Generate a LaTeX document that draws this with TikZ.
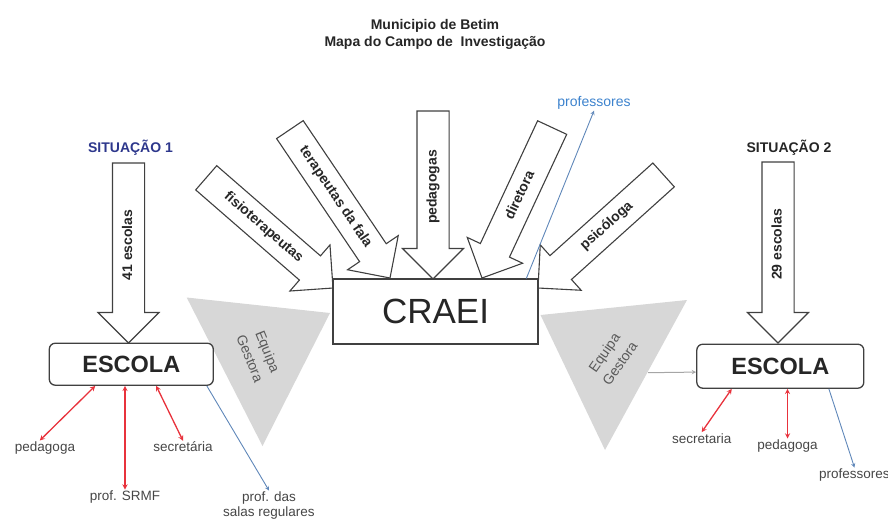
\documentclass[tikz,border=0pt]{standalone}
\usepackage{fontspec}
\setmainfont{Liberation Sans}
\usepackage{xcolor}
\usetikzlibrary{shapes.arrows}
\tikzset{>=stealth}
\definecolor{sitblue}{RGB}{45,55,140}
\definecolor{relred}{RGB}{232,50,60}
\definecolor{profblue}{RGB}{95,135,185}
\definecolor{proftxt}{RGB}{60,130,205}
\definecolor{eqgray}{RGB}{215,215,215}
\definecolor{txtgray}{RGB}{70,70,70}
\tikzset{
  blockarr/.style={single arrow, draw=black!75, fill=white, line width=1.1pt,
    text height=9pt, text depth=2pt, inner ysep=10pt, inner xsep=2pt,
    single arrow head extend=14.5pt, single arrow head indent=0pt,
    outer sep=0pt, anchor=tip, text=black!85,
    font=\fontsize{14}{16}\selectfont\bfseries},
  flipped/.style={shape border rotate=180},
  escola/.style={draw=black!75, line width=1.3pt, rounded corners=6pt, fill=white,
    inner sep=0pt, text=black!85, font=\fontsize{23.5}{28}\selectfont\bfseries},
  lbl/.style={inner sep=1pt, text=txtgray, font=\fontsize{13.5}{15}\selectfont},
  eqtxt/.style={align=center, text=black!65, font=\fontsize{14}{19}\selectfont},
  relarr/.style={<->, relred, line width=1.3pt},
  profarr/.style={->, profblue, line width=0.9pt},
}

\begin{document}
\begin{tikzpicture}[x=1pt,y=-1pt]
        \useasboundingbox (0,0) rectangle (888,520);

        % Title
        \node[align=center, text=black!85, font=\fontsize{14}{17}\selectfont\bfseries] (title) at (435,34)
            {Municipio de Betim\\Mapa do Campo de\ \ Investigação};
        \node[text=sitblue, font=\fontsize{14}{17}\selectfont\bfseries] (sit1) at (130.5,148) {SITUAÇÃO 1};
        \node[text=black!85, font=\fontsize{14}{17}\selectfont\bfseries] (sit2) at (789,148) {SITUAÇÃO 2};

        % Equipa Gestora
        \fill[eqgray] (186.7,297.5) -- (330,313) -- (262.5,446) -- cycle;
        \fill[eqgray] (540.5,315) -- (687,300) -- (605,450) -- cycle;
        \node[eqtxt, rotate=-68] (eq1) at (259,355) {Equipa\\Gestora};
        \node[eqtxt, rotate=55] (eq2) at (612,358) {Equipa\\Gestora};

        % Block arrows
        \node[blockarr, flipped, rotate=90, minimum height=180pt] (esc41) at (128.5,343) {41 escolas};
        \node[blockarr, rotate=-41, minimum height=168pt] (fisio) at (333,288) {fisioterapeutas};
        \node[blockarr, rotate=-56, minimum height=179pt] (terap) at (390,278) {terapeutas da fala};
        \node[blockarr, flipped, rotate=90, minimum height=168pt] (pedag) at (433,279) {pedagogas};
        \node[blockarr, flipped, rotate=65, minimum height=166pt] (diret) at (482,278) {diretora};
        \node[blockarr, flipped, rotate=42, minimum height=169pt] (psico) at (538,288) {psicóloga};
        \node[blockarr, flipped, rotate=90, minimum height=181pt] (esc29) at (778,343) {29 escolas};

        % Boxes
        \node[draw=black!75, line width=1.1pt, fill=white, minimum width=205pt, minimum height=65pt,
            text=black!85, font=\fontsize{35}{40}\selectfont] (craei) at (435.5,311.5) {CRAEI};
        \node[escola, minimum width=164pt, minimum height=42pt] (escola1) at (131.3,364.2) {ESCOLA};
        \node[escola, minimum width=167pt, minimum height=44pt] (escola2) at (780.3,366.2) {ESCOLA};

        % Labels
        \node[lbl] (ped1) at (45,448) {pedagoga};
        \node[lbl] (srmf) at (125,497) {prof. SRMF};
        \node[lbl] (sec1) at (183,447) {secretária};
        \node[lbl, align=center] (regul) at (269,505.5) {prof. das\\salas regulares};
        \node[lbl] (sec2) at (701.7,438.3) {secretaria};
        \node[lbl] (ped2) at (787.5,446) {pedagoga};
        \node[lbl, anchor=west] (prof2) at (818,475) {professores};
        \node[lbl, text=proftxt, font=\fontsize{14}{16}\selectfont] (profc) at (594,103) {professores};

        % Connectors
        \draw[relarr] (escola1.211) -- (ped1.125);
        \draw[relarr] (srmf.north |- escola1.south) -- (srmf.north);
        \draw[relarr] (escola1.319) -- (sec1.north);
        \draw[profarr] (escola1.344) -- (regul.north);
        \draw[relarr] (escola2.205) -- (sec2.north);
        \draw[relarr] (ped2.north |- escola2.south) -- (ped2.north);
        \draw[profarr] (escola2.335) -- (prof2.north);
        \draw[profarr] (craei.20) -- (profc.south);
        \coordinate (eq2out) at (648,372.7);
        \draw[->, gray!70, line width=1pt] (eq2out) -- (escola2.184);

\end{tikzpicture}
\end{document}
